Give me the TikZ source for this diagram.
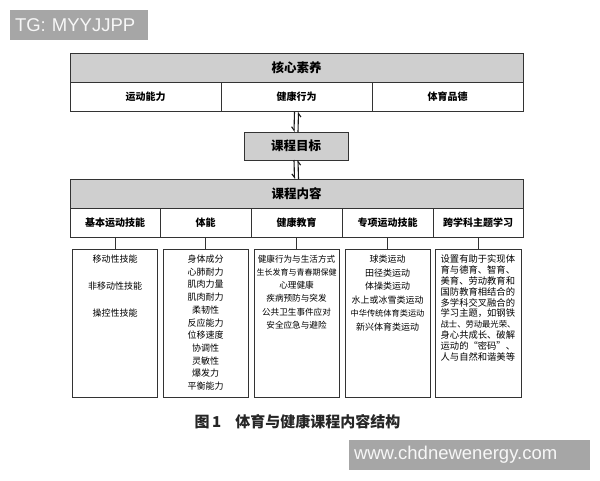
\documentclass[tikz,border=0pt]{standalone}
\usepackage{fontspec}
\setmainfont{Noto Sans CJK SC}
\newfontfamily\markfont{Liberation Sans}
\usetikzlibrary{arrows.meta, positioning}

\begin{document}
\begin{tikzpicture}[
        x=1pt, y=-1pt,
        node distance=6pt,
        font=\fontsize{9}{12}\selectfont,
        every node/.style={inner sep=0pt, outer sep=0pt},
        head box/.style={draw=black!80, line width=0.8pt, fill=black!19, minimum height=29pt, font=\fontsize{12.5}{14}\selectfont\bfseries},
        cell box/.style={draw=black!80, line width=0.8pt, fill=white, minimum height=29.5pt, font=\fontsize{10}{12}\selectfont\bfseries},
        list box/.style={draw=black!80, line width=0.8pt, minimum width=85pt, minimum height=148pt},
        list text/.style={anchor=north, align=center},
        link/.style={draw=black!80, line width=0.8pt},
        goal arrow/.style={draw=black!90, line width=1.1pt, -{Straight Barb[harpoon, swap, length=3.5pt, width=5pt]}},
        mark box/.style={fill=black!35, text=black!3, align=left, font=\markfont\fontsize{18.5}{20}\selectfont}
    ]
    \useasboundingbox (0,0) rectangle (600,480);

    % Core literacy table
    \node[head box, minimum width=453pt] (core) at (296.5, 67.5) {核心素养};
    \node[cell box, minimum width=151pt] (ability) at (145.5, 97) {运动能力};
    \node[cell box, minimum width=151pt] (health) at (296.5, 97) {健康行为};
    \node[cell box, minimum width=151pt] (morals) at (447.5, 97) {体育品德};

    % Course goal
    \node[head box, minimum width=104pt, minimum height=28pt] (goal) at (296, 146) {课程目标};

    % Course content table
    \node[head box, minimum width=453pt] (content) at (296.5, 193.5) {课程内容};
    \node[cell box, minimum width=90pt] (basic) at (115, 223) {基本运动技能};
    \node[cell box, minimum width=91pt] (fitness) at (205.5, 223) {体能};
    \node[cell box, minimum width=91pt] (edu) at (296.5, 223) {健康教育};
    \node[cell box, minimum width=91pt] (special) at (387.5, 223) {专项运动技能};
    \node[cell box, minimum width=90pt] (cross) at (478, 223) {跨学科主题学习};

    % Lower boxes
    \node[list box] (basic list) at (115, 323) {};
    \node[list box] (fitness list) at (205.5, 323) {};
    \node[list box] (edu list) at (296.5, 323) {};
    \node[list box] (special list) at (387.5, 323) {};
    \node[list box, minimum width=86pt] (cross list) at (478, 323) {};

    % Texts of the lower boxes
    \node[list text, below=6pt of basic list.north, font=\fontsize{9}{27}\selectfont] (basic items)
        {移动性技能\\非移动性技能\\操控性技能};
    \node[list text, below=6pt of fitness list.north, font=\fontsize{9}{12.7}\selectfont] (fitness items)
        {身体成分\\心肺耐力\\肌肉力量\\肌肉耐力\\柔韧性\\反应能力\\位移速度\\协调性\\灵敏性\\爆发力\\平衡能力};
    \node[list text, below=6pt of edu list.north, font=\fontsize{8.6}{13.2}\selectfont] (edu items)
        {健康行为与生活方式\\{\fontsize{8}{13.2}\selectfont 生长发育与青春期保健}\\心理健康\\疾病预防与突发\\公共卫生事件应对\\安全应急与避险};
    \node[list text, below=6pt of special list.north, font=\fontsize{9}{13.5}\selectfont] (special items)
        {球类运动\\田径类运动\\体操类运动\\水上或冰雪类运动\\{\fontsize{8.2}{13.5}\selectfont 中华传统体育类运动}\\新兴体育类运动};
    \node[list text, below=6pt of cross list.north, font=\fontsize{9.3}{10.8}\selectfont, align=left] (cross items)
        {设置有助于实现体\\育与德育、智育、\\美育、劳动教育和\\国防教育相结合的\\多学科交叉融合的\\学习主题，如钢铁\\{\fontsize{8.3}{10.8}\selectfont 战士、劳动最光荣、}\\身心共成长、破解\\运动的“密码”、\\人与自然和谐美等};

    % Caption
    \node[font=\fontsize{15}{17}\selectfont\bfseries, text=black!85] (caption) at (297.5, 422)
        {图\,1\hspace{14pt}体育与健康课程内容结构};

    % Marks
    \node[mark box, minimum width=138pt, minimum height=30pt, text width=128pt] (tg mark) at (79, 25) {TG: MYYJJPP};
    \node[mark box, minimum width=241pt, minimum height=30pt, text width=231pt] (site mark) at (469.5, 455) {www.chdnewenergy.com};

    % Double arrows
    \draw[goal arrow] ([xshift=-2pt]health.south) -- ([xshift=-2pt]goal.north);
    \draw[goal arrow] ([xshift=2pt]goal.north) -- ([xshift=2pt]health.south);
    \draw[goal arrow] ([xshift=-2pt]goal.south) -- ([xshift=-2pt]content.north);
    \draw[goal arrow] ([xshift=2pt]content.north) -- ([xshift=2pt]goal.south);

    % Cells to lower boxes
    \draw[link] (basic) -- (basic list);
    \draw[link] (fitness) -- (fitness list);
    \draw[link] (edu) -- (edu list);
    \draw[link] (special) -- (special list);
    \draw[link] (cross) -- (cross list);

\end{tikzpicture}
\end{document}
